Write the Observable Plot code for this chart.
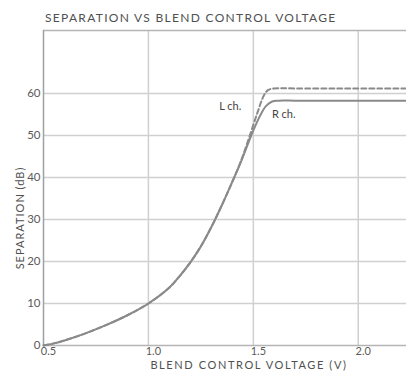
<!DOCTYPE html>
<html>
<head>
<meta charset="utf-8">
<script src="https://cdn.jsdelivr.net/npm/d3@7"></script>
<script src="https://cdn.jsdelivr.net/npm/@observablehq/plot@0.6"></script>
<style>
  html, body { margin: 0; padding: 0; background: #fff; }
  #wrap { position: relative; width: 406px; height: 373px; }
  svg { font-family: Lato, "Open Sans", sans-serif; display: block; }
  #title { position: absolute; left: 45px; top: 11px; font: 12px Lato, "Open Sans", sans-serif;
           letter-spacing: 1.3px; color: #505050; white-space: nowrap; line-height: 14px; }
</style>
</head>
<body>
<div id="wrap"><div id="chart"></div><div id="title"></div></div>
<script>
// Shared part of both channels (curves coincide below ~40 dB)
const voltShared = [0.5, 0.55, 0.6, 0.7, 0.8, 0.9, 1.0, 1.1, 1.15, 1.2, 1.25, 1.3, 1.35, 1.4];
const sepShared  = [0, 0.5, 1.2, 2.9, 4.9, 7.2, 10, 13.8, 16.6, 19.8, 23.6, 28.2, 33.4, 39];
// L channel (dashed) upper part
const voltL = [1.44, 1.48, 1.52, 1.55, 1.57, 1.60, 1.7, 1.9, 2.1, 2.23];
const sepL  = [43.8, 49.5, 55.5, 59.5, 60.8, 61.2, 61.2, 61.2, 61.2, 61.2];
// R channel (solid) upper part
const voltR = [1.44, 1.49, 1.53, 1.56, 1.59, 1.62, 1.7, 1.9, 2.1, 2.23];
const sepR  = [43.6, 50, 54.5, 57, 58.1, 58.3, 58.3, 58.3, 58.3, 58.3];

const xTicks = [0.5, 1.0, 1.5, 2.0];
const yTicks = [0, 10, 20, 30, 40, 50, 60];
const seriesLabels = [
  {name: "L ch.", v: 1.39, s: 57},
  {name: "R ch.", v: 1.645, s: 55}
];
const titleText = "SEPARATION VS BLEND CONTROL VOLTAGE";
const xLabel = "BLEND CONTROL VOLTAGE (V)";
const yLabel = "SEPARATION (dB)";

const shared = voltShared.map((v, i) => ({v, s: sepShared[i]}));
const dataL = shared.concat(voltL.map((v, i) => ({v, s: sepL[i]})));
const dataR = shared.concat(voltR.map((v, i) => ({v, s: sepR[i]})));

const lineColor = "#8a8a8a";
const gridColor = "#d0d0d0";
const textColor = "#5a5a5a";

const chart = Plot.plot({
  width: 406,
  height: 373,
  marginLeft: 43,
  marginRight: 0,
  marginTop: 30,
  marginBottom: 28,
  style: {background: "#fff", color: textColor, fontSize: "11px"},
  x: {domain: [0.5, 2.23]},
  y: {domain: [0, 75]},
  marks: [
    Plot.gridY(yTicks.filter(d => d > 0), {stroke: gridColor, strokeOpacity: 1, strokeWidth: 1.5}),
    Plot.gridX(xTicks.filter(d => d > 0.5), {stroke: gridColor, strokeOpacity: 1, strokeWidth: 1.5}),
    Plot.ruleY([0, 75], {stroke: "#b5b5b5", strokeWidth: 1.5}),
    Plot.ruleX([0.5], {stroke: "#a0a0a0", strokeWidth: 1.5}),
    Plot.line(dataL, {x: "v", y: "s", stroke: lineColor, strokeWidth: 2, strokeDasharray: "5,3", curve: "catmull-rom"}),
    Plot.line(dataR, {x: "v", y: "s", stroke: lineColor, strokeWidth: 2, curve: "catmull-rom"}),
    Plot.text(seriesLabels, {x: "v", y: "s", text: "name", fill: "#444", fontSize: 11, textAnchor: "middle"}),
    Plot.axisX(xTicks, {tickSize: 0, tickPadding: 2, dx: 5, tickFormat: d3.format(".1f"), label: null, fill: textColor, fontSize: 11}),
    Plot.axisY(yTicks, {tickSize: 0, tickPadding: 3, label: null, fill: textColor, fontSize: 11.5}),
    Plot.text([xLabel], {frameAnchor: "bottom", dx: 24, dy: 23, text: d => d, fill: "#505050", fontSize: 11, textAnchor: "middle"}),
    Plot.text([yLabel], {frameAnchor: "left", dx: -23, dy: 30, rotate: -90, text: d => d, fill: "#505050", fontSize: 11, textAnchor: "middle"})
  ]
});
const spacing = {[xLabel]: "1.6px", [yLabel]: "1px"};
d3.select(chart).selectAll("text").each(function() {
  const t = this.textContent;
  if (spacing[t]) this.setAttribute("letter-spacing", spacing[t]);
});
document.getElementById("chart").appendChild(chart);
document.getElementById("title").textContent = titleText;
</script>
</body>
</html>
